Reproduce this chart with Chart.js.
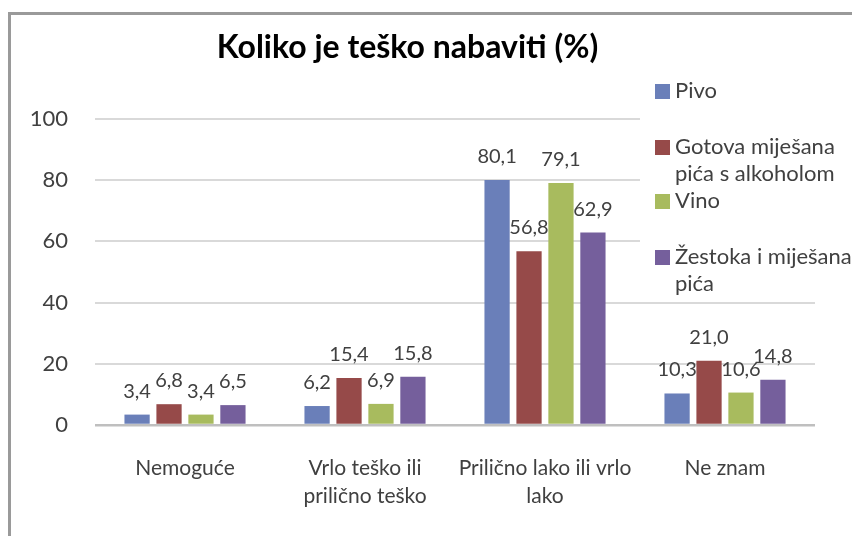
<!DOCTYPE html>
<html>
<head>
<meta charset="utf-8">
<script src="https://cdn.jsdelivr.net/npm/chart.js@4/dist/chart.umd.min.js"></script>
<style>
  html, body { margin: 0; padding: 0; background: #ffffff; }
  #wrap { position: relative; width: 852px; height: 536px; overflow: hidden; }
  #frame { position: absolute; left: 8px; top: 12px; width: 1000px; height: 1000px;
           border-left: 3px solid #9a9a9a; border-top: 3px solid #9a9a9a; }
  canvas { position: absolute; left: 0; top: 0; }
</style>
</head>
<body>
<div id="wrap">
  <div id="frame"></div>
  <canvas id="c" width="852" height="536"></canvas>
</div>
<script>
const titleText = 'Koliko je teško nabaviti (%)';
const categories = [
  ['Nemoguće'],
  ['Vrlo teško ili', 'prilično teško'],
  ['Prilično lako ili vrlo', 'lako'],
  ['Ne znam']
];
const seriesNames = ['Pivo', 'Gotova miješana pića s alkoholom', 'Vino', 'Žestoka i miješana pića'];
const legendLines = [['Pivo'], ['Gotova miješana', 'pića s alkoholom'], ['Vino'], ['Žestoka i miješana', 'pića']];
const pivo = [3.4, 6.2, 80.1, 10.3];
const gotova = [6.8, 15.4, 56.8, 21.0];
const vino = [3.4, 6.9, 79.1, 10.6];
const zestoka = [6.5, 15.8, 62.9, 14.8];
const yTicks = [0, 20, 40, 60, 80, 100];
const colors = ['#6a7fb9', '#964a49', '#a8bb5e', '#755f9c'];

const FONT = 'Lato, "Open Sans", sans-serif';
const TEXT = '#404040';

const dataLabels = {
  id: 'dataLabels',
  afterDatasetsDraw(chart) {
    const ctx = chart.ctx;
    ctx.save();
    ctx.font = '20px ' + FONT;
    ctx.fillStyle = TEXT;
    ctx.textAlign = 'center';
    ctx.textBaseline = 'alphabetic';
    chart.data.datasets.forEach((ds, i) => {
      const meta = chart.getDatasetMeta(i);
      meta.data.forEach((bar, j) => {
        const txt = ds.data[j].toFixed(1).replace('.', ',');
        ctx.fillText(txt, bar.x, bar.y - 17);
      });
    });
    ctx.restore();
  }
};

const overlayLegend = {
  id: 'overlayLegend',
  afterDraw(chart) {
    const ctx = chart.ctx;
    ctx.save();
    ctx.fillStyle = '#ffffff';
    ctx.fillRect(640, 70, 212, 226);
    ctx.font = '22px ' + FONT;
    ctx.textBaseline = 'middle';
    ctx.textAlign = 'left';
    const starts = [91, 147, 201, 257];
    const lh = 27;
    legendLines.forEach((lines, i) => {
      const y0 = starts[i];
      ctx.fillStyle = colors[i];
      ctx.fillRect(655, y0 - 7, 15, 15);
      ctx.fillStyle = TEXT;
      lines.forEach((ln, k) => ctx.fillText(ln, 675, y0 + k * lh));
    });
    ctx.restore();
  }
};

new Chart(document.getElementById('c'), {
  type: 'bar',
  data: {
    labels: categories,
    datasets: [
      { label: seriesNames[0], data: pivo, backgroundColor: colors[0] },
      { label: seriesNames[1], data: gotova, backgroundColor: colors[1] },
      { label: seriesNames[2], data: vino, backgroundColor: colors[2] },
      { label: seriesNames[3], data: zestoka, backgroundColor: colors[3] }
    ]
  },
  options: {
    responsive: false,
    devicePixelRatio: 1,
    animation: false,
    layout: { padding: { left: 0, right: 37, top: 0, bottom: 0 } },
    datasets: { bar: { categoryPercentage: 0.71, barPercentage: 0.79 } },
    plugins: {
      legend: { display: false },
      tooltip: { enabled: false },
      title: {
        display: true,
        text: titleText,
        color: '#000000',
        font: { family: FONT, size: 32, weight: 'bold', lineHeight: 1.2 },
        padding: { top: 28, bottom: 52.6 }
      }
    },
    scales: {
      x: {
        grid: { display: false, drawTicks: false },
        border: { display: false },
        ticks: { color: TEXT, font: { family: FONT, size: 21, lineHeight: 1.3 }, padding: 30, maxRotation: 0, autoSkip: false },
        afterFit(s) { s.height = 111; }
      },
      y: {
        min: 0, max: 100,
        afterBuildTicks(s) { s.ticks = yTicks.map(v => ({ value: v })); },
        grid: {
          drawTicks: false,
          color: c => (c.tick && c.tick.value === 0) ? '#bfbfbf' : '#d9d9d9',
          lineWidth: c => (c.tick && c.tick.value === 0) ? 2.5 : 2
        },
        border: { display: false },
        ticks: { color: TEXT, font: { family: FONT, size: 22 }, padding: 27 },
        afterFit(s) { s.width = 95; }
      }
    }
  },
  plugins: [dataLabels, overlayLegend]
});
</script>
</body>
</html>
